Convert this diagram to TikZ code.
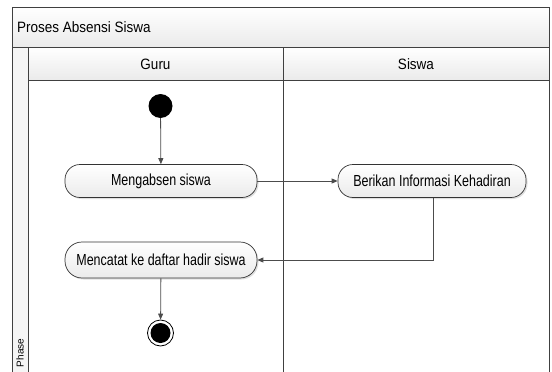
\documentclass[tikz,border=0pt]{standalone}
\usepackage{fontspec}
\setmainfont{Liberation Sans}
\newfontfamily\narrowfont[FakeStretch=0.78]{Liberation Sans}
\newfontfamily\titlefont[FakeStretch=0.9]{Liberation Sans}
\usetikzlibrary{arrows.meta,shadows}
\begin{document}
\begin{tikzpicture}[x=1pt,y=-1pt,
  frame/.style={draw=black!75,line width=0.7pt},
  bar/.style={frame,top color=white,bottom color=black!8},
  action/.style={draw=black!80,line width=0.7pt,rounded corners=15pt,
    top color=white,bottom color=black!8,minimum height=33pt,
    inner xsep=3pt,font=\narrowfont\fontsize{16}{18}\selectfont,
    drop shadow={shadow xshift=1.5pt,shadow yshift=-1.5pt,opacity=0.25}},
  flow/.style={draw=black!70,line width=0.8pt,-{Triangle[length=6pt,width=5pt]}},
  lbl/.style={font=\titlefont\fontsize{15}{17}\selectfont,inner sep=0pt}]
\useasboundingbox (0,0) rectangle (552,372);
% swimlane frame
\path[bar] (12,7) rectangle (549,47);
\node[lbl,anchor=west] (title) at (17,27) {Proses Absensi Siswa};
\path[frame,fill=black!4] (12,47) rectangle (28,380);
\path[bar] (28,47) rectangle (283,80);
\path[bar] (283,47) rectangle (549,80);
\draw[frame] (28,80) rectangle (283,380);
\draw[frame] (283,80) rectangle (549,380);
\node[lbl] (guru) at (155.5,64) {Guru};
\node[lbl] (siswa) at (416,64) {Siswa};
\node[font=\fontsize{10}{11}\selectfont,rotate=90,inner sep=0pt] (phase) at (20,353) {Phase};
% activity nodes
\node[circle,fill=black,minimum size=24pt,inner sep=0pt] (start) at (160.5,106) {};
\node[action,minimum width=192pt] (absen) at (161,181) {Mengabsen siswa};
\node[action,minimum width=188pt] (info) at (432,181) {Berikan Informasi Kehadiran};
\node[action,minimum width=192pt,minimum height=36pt,rounded corners=17pt] (catat) at (161,260) {Mencatat ke daftar hadir siswa};
\node[circle,draw=black,line width=0.8pt,fill=white,minimum size=26pt,inner sep=0pt] (end) at (160.5,333) {};
\node[circle,fill=black,minimum size=20pt,inner sep=0pt] (endin) at (end) {};
% control flow
\draw[flow] (start) -- (absen);
\draw[flow] (absen) -- (info);
\draw[flow] (info.south -| 433,0) |- (catat.east);
\draw[flow] (catat) -- (end);
\end{tikzpicture}
\end{document}
